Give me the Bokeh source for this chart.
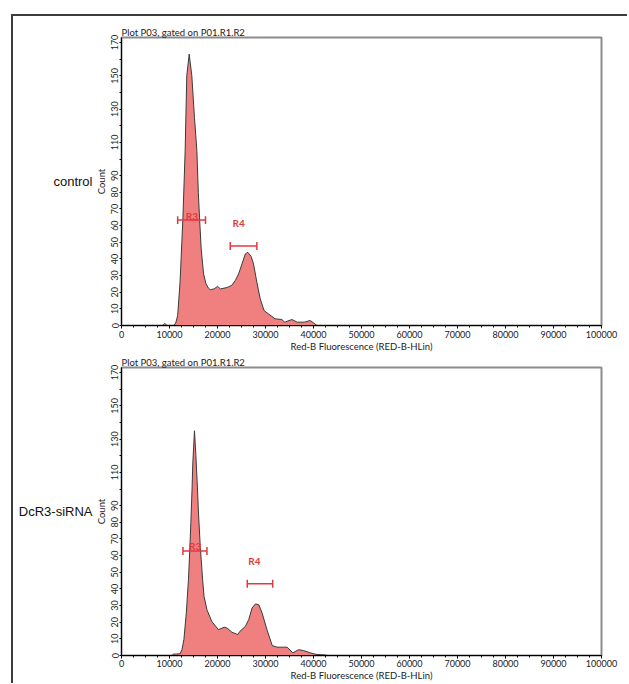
from bokeh.plotting import figure
from bokeh.models import FixedTicker, Range1d, LinearAxis, NumeralTickFormatter, Div, Spacer
from bokeh.layouts import column, row
from bokeh.embed import file_html
from bokeh.resources import INLINE
from bokeh.core.properties import value

# ---------------- data ----------------
x_tick_values = [0, 10000, 20000, 30000, 40000, 50000, 60000, 70000, 80000, 90000, 100000]
x_minor_ticks = [0, 2500, 5000, 7500, 10000, 12500, 15000, 17500, 20000, 22500, 25000, 27500,
                 30000, 32500, 35000, 37500, 40000, 42500, 45000, 47500, 50000, 52500, 55000,
                 57500, 60000, 62500, 65000, 67500, 70000, 72500, 75000, 77500, 80000, 82500,
                 85000, 87500, 90000, 92500, 95000, 97500, 100000]
y_tick_values = [0, 10, 20, 30, 40, 50, 60, 70, 80, 90, 100, 110, 120, 130, 140, 150, 160, 170]
y_hidden_labels = [100, 120, 140, 160]

control_x = [0, 8500, 9000, 9500, 10900, 11300, 11700, 12200, 12800, 13260, 13600, 14100,
             14650, 15200, 15700, 16000, 16250, 16600, 17100, 17600, 18100, 18500, 19300,
             20000, 20600, 22000, 23000, 23700, 24400, 25100, 25800, 26300, 27000, 27500,
             28200, 28900, 29700, 30600, 32000, 33400, 34000, 35500, 36600, 38100, 39300,
             40000, 40700, 100000]
control_y = [0, 0, 1.2, 0, 0, 1.5, 6, 26, 65, 105, 150, 163,
             150, 125, 105, 80, 65, 46, 31, 25, 22.5, 21.5, 22,
             23.5, 22, 22.8, 24.2, 27, 31, 37, 43, 44, 41.5, 37,
             26, 16, 9, 7, 4, 3.6, 2, 3.6, 2, 2, 3,
             1.6, 0, 0]

sirna_x = [0, 10500, 10800, 12200, 12600, 13000, 13500, 13950, 14250, 14450, 14700, 14850,
           15200, 15500, 15750, 16050, 16400, 16900, 17200, 17800, 18800, 20200, 21400,
           22000, 23000, 24200, 24700, 25800, 26500, 27200, 27900, 28600, 29300, 30300,
           31400, 32400, 34500, 35700, 36900, 37900, 39300, 40700, 42500, 43000, 100000]
sirna_y = [0, 0, 0.8, 1, 3.6, 9.6, 25.5, 45.5, 65, 80, 100, 115,
           135, 120, 105, 85, 66, 45.5, 35.5, 27.5, 20.5, 15.5, 17,
           16.5, 14, 12.6, 14.6, 17.5, 21.5, 28.5, 31, 30.5, 25.5, 15.5,
           6, 5, 5, 1.6, 3.5, 3, 1.6, 0.6, 0.3, 0, 0]

control_gates = {"name": ["R3", "R4"], "start": [11700, 22650], "end": [17500, 28200],
                 "bar_y": [63.3, 47.7], "label_x": [14650, 24400], "label_y": [66, 61.3]}
sirna_gates = {"name": ["R3", "R4"], "start": [12800, 26200], "end": [17800, 31500],
               "bar_y": [62.8, 43.1], "label_x": [15350, 27700], "label_y": [66, 56.9]}

plot_title = "Plot P03, gated on P01.R1.R2"
x_label = "Red-B Fluorescence (RED-B-HLin)"
y_label = "Count"
sample_names = ["control", "DcR3-siRNA"]

FILL = "#f08080"
EDGE = "#3a3a3a"
RED = "#e03a40"
AX_FONT = "Lato"
TXT = "#222222"


def make_fig(xs, ys, gates, name, height, top_b, bottom_b, tick_standoff, label_standoff):
    p = figure(width=608, height=height, x_range=Range1d(0, 100000), y_range=Range1d(0, 173),
               output_backend="svg", toolbar_location=None,
               min_border_left=108, min_border_right=20, min_border_top=top_b,
               min_border_bottom=bottom_b, margin=0)
    p.grid.visible = False
    p.outline_line_color = "#8c8c8c"
    p.outline_line_width = 2
    p.background_fill_color = "white"
    p.border_fill_color = "white"

    p.title.text = plot_title
    p.title.align = "left"
    p.title.text_font = AX_FONT
    p.title.text_font_size = "9.5px"
    p.title.text_font_style = "normal"
    p.title.text_color = TXT
    p.title.standoff = 0
    p.title.offset = 0

    p.varea(x=xs, y1=[0] * len(xs), y2=ys, fill_color=FILL, fill_alpha=1.0)
    p.line(x=xs, y=ys, line_color=EDGE, line_width=1)

    cap = 2.4
    p.segment(x0=gates["start"], y0=gates["bar_y"], x1=gates["end"], y1=gates["bar_y"],
              line_color=RED, line_width=1.5)
    p.segment(x0=gates["start"], y0=[v - cap for v in gates["bar_y"]],
              x1=gates["start"], y1=[v + cap for v in gates["bar_y"]], line_color=RED, line_width=1.5)
    p.segment(x0=gates["end"], y0=[v - cap for v in gates["bar_y"]],
              x1=gates["end"], y1=[v + cap for v in gates["bar_y"]], line_color=RED, line_width=1.5)
    p.text(x=gates["label_x"], y=gates["label_y"], text=gates["name"], text_color=RED,
           text_font=value(AX_FONT), text_font_size="10px", text_font_style="bold",
           text_align="center", text_baseline="middle")

    xa = p.xaxis[0]
    xa.ticker = FixedTicker(ticks=x_tick_values, minor_ticks=x_minor_ticks)
    xa.formatter = NumeralTickFormatter(format="0")
    xa.axis_label = x_label
    xa.axis_label_text_font = AX_FONT
    xa.axis_label_text_font_style = "normal"
    xa.axis_label_text_font_size = "9.5px"
    xa.axis_label_text_color = TXT
    xa.major_label_text_font = AX_FONT
    xa.major_label_text_font_size = "9px"
    xa.major_label_text_color = TXT
    xa.major_tick_out = 3
    xa.major_tick_in = 0
    xa.minor_tick_out = 2
    xa.minor_tick_in = 0
    xa.major_label_standoff = tick_standoff
    xa.axis_label_standoff = label_standoff
    xa.axis_line_color = "black"

    ya = p.yaxis[0]
    ya.ticker = FixedTicker(ticks=y_tick_values, minor_ticks=[])
    ya.major_label_overrides = {v: "" for v in y_hidden_labels}
    ya.major_label_orientation = "vertical"
    ya.axis_label = y_label
    ya.axis_label_text_font = AX_FONT
    ya.axis_label_text_font_style = "normal"
    ya.axis_label_text_font_size = "9.5px"
    ya.axis_label_text_color = TXT
    ya.major_label_text_font = AX_FONT
    ya.major_label_text_font_size = "9px"
    ya.major_label_text_color = TXT
    ya.major_tick_out = 2
    ya.major_tick_in = 0
    ya.major_label_standoff = 1
    ya.axis_label_standoff = 2
    ya.axis_line_color = "black"

    # sample name as a horizontal label of an extra (bare) left axis
    na = LinearAxis(axis_label=name, ticker=FixedTicker(ticks=[]), axis_line_color=None,
                    major_tick_line_color=None, minor_tick_line_color=None,
                    major_label_text_font_size="0px", axis_label_standoff=0)
    na.axis_label_orientation = "horizontal"
    na.axis_label_text_font = "Liberation Sans"
    na.axis_label_text_font_size = "13px"
    na.axis_label_text_font_style = "normal"
    na.axis_label_text_color = "#111111"
    p.add_layout(na, "left")
    return p


p1 = make_fig(control_x, control_y, control_gates, sample_names[0], 338, 21, 27, 2, 0)
p2 = make_fig(sirna_x, sirna_y, sirna_gates, sample_names[1], 329, 13, 26, 1, 0)

BORDER = "#3c3c3c"
left_line = Div(text="", width=2, height=669, margin=0, styles={"background-color": BORDER})
top_line = Div(text="", width=614, height=2, margin=0, styles={"background-color": BORDER})

layout = row(Spacer(width=11, margin=0),
             column(Spacer(height=14, margin=0), left_line, spacing=0, margin=0),
             column(Spacer(height=14, margin=0), top_line, p1, p2, spacing=0, margin=0),
             spacing=0, margin=0)

open("out.html", "w").write(file_html(layout, INLINE))
